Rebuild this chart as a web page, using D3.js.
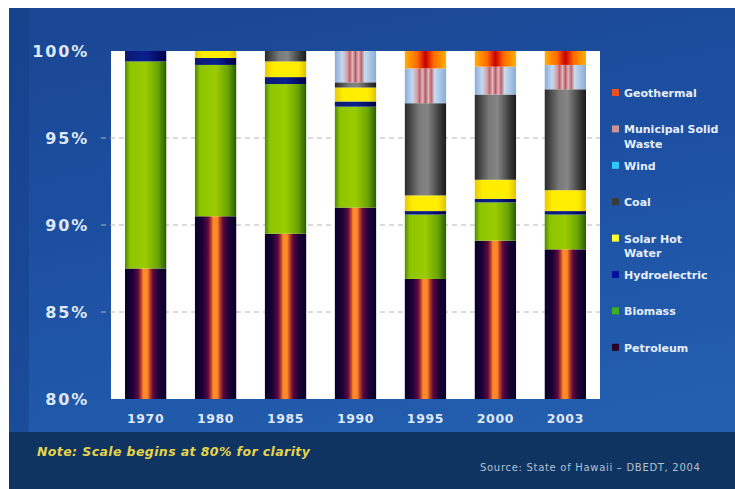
<!DOCTYPE html>
<html>
<head>
<meta charset="utf-8">
<style>
  body { margin: 0; background: #fff; }
  svg { display: block; }
</style>
</head>
<body>
<div id="chartId"></div>
<script src="https://d3js.org/d3.v7.min.js"></script>
<script>

// Data (share of energy supply, %)
const years = ['1970', '1980', '1985', '1990', '1995', '2000', '2003'];
const petroleum  = [87.5, 90.5, 89.5, 91.0, 86.9, 89.1, 88.6];
const biomass    = [11.9, 8.7, 8.6, 5.8, 3.7, 2.2, 2.0];
const hydro      = [0.6, 0.4, 0.4, 0.3, 0.2, 0.2, 0.2];
const solar      = [0, 0.4, 0.9, 0.8, 0.9, 1.1, 1.2];
const coal       = [0, 0, 0.6, 0.3, 5.3, 4.9, 5.8];
const wind       = [0, 0, 0, 0, 0, 0, 0];
const msw        = [0, 0, 0, 1.8, 2.0, 1.6, 1.4];
const geothermal = [0, 0, 0, 0, 1.0, 0.9, 0.8];
const yTicks = [80, 85, 90, 95, 100];

// bottom -> top stack order
const series = [
  {key: 'petroleum',  name: ['Petroleum'],              values: petroleum,  swatch: '#2a0026'},
  {key: 'biomass',    name: ['Biomass'],                values: biomass,    swatch: '#3cb020'},
  {key: 'hydro',      name: ['Hydroelectric'],          values: hydro,      swatch: '#0010a0'},
  {key: 'solar',      name: ['Solar Hot', 'Water'],     values: solar,      swatch: '#ffff30'},
  {key: 'coal',       name: ['Coal'],                   values: coal,       swatch: '#3a3a3a'},
  {key: 'wind',       name: ['Wind'],                   values: wind,       swatch: '#30c8f8'},
  {key: 'msw',        name: ['Municipal Solid', 'Waste'], values: msw,      swatch: '#d09098'},
  {key: 'geothermal', name: ['Geothermal'],             values: geothermal, swatch: '#e85020'}
];

// horizontal "cylinder" shading for each segment
const gradients = {
  petroleum:  [[0, '#08002a'], [0.18, '#1c0036'], [0.32, '#5c0a40'], [0.4, '#c84a28'], [0.44, '#ff8a2a'], [0.54, '#ff8a2a'], [0.6, '#c04428'], [0.68, '#5c0a40'], [0.82, '#1c0036'], [1, '#08002a']],
  biomass:    [[0, '#4a8a00'], [0.12, '#8ec400'], [0.5, '#9acc00'], [0.8, '#6aa400'], [1, '#285e00']],
  hydro:      [[0, '#0a1a70'], [0.5, '#0b2090'], [1, '#000048']],
  solar:      [[0, '#e8c800'], [0.2, '#ffee00'], [0.8, '#ffee00'], [1, '#e0c000']],
  coal:       [[0, '#2a2a2a'], [0.35, '#7a7a7a'], [0.55, '#858585'], [0.85, '#3a3a3a'], [1, '#1a1a1a']],
  wind:       [[0, '#20a0e0'], [0.5, '#60d8ff'], [1, '#20a0e0']],
  msw:        [[0, '#88acd8'], [0.18, '#c4d8f0'], [0.3, '#d4a0a8'], [0.36, '#c06068'], [0.43, '#e0b8c0'], [0.5, '#b85860'], [0.57, '#e0b8c0'], [0.64, '#c06068'], [0.72, '#c8dcf0'], [1, '#88acd8']],
  geothermal: [[0, '#ffb000'], [0.3, '#ff6a00'], [0.5, '#c80000'], [0.7, '#ff6a00'], [1, '#ffb000']]
};

const W = 735, H = 489;
const plot = {left: 111, right: 600, top: 51, bottom: 399};

const svg = d3.select('#chartId').append('svg')
  .attr('width', W).attr('height', H);
const defs = svg.append('defs');

// background panel
const bg = defs.append('linearGradient').attr('id', 'bgGrad')
  .attr('x1', 0).attr('y1', 0).attr('x2', 0.3).attr('y2', 1);
bg.append('stop').attr('offset', 0).attr('stop-color', '#1a4693');
bg.append('stop').attr('offset', 0.5).attr('stop-color', '#1d50a2');
bg.append('stop').attr('offset', 1).attr('stop-color', '#235eaf');

svg.append('rect').attr('x', 9).attr('y', 8).attr('width', W - 9).attr('height', H - 8)
  .attr('fill', 'url(#bgGrad)');
svg.append('rect').attr('x', 9).attr('y', 8).attr('width', 20).attr('height', H - 8)
  .attr('fill', '#153e86').attr('opacity', 0.45);
svg.append('rect').attr('x', 9).attr('y', 432).attr('width', W - 9).attr('height', H - 432)
  .attr('fill', '#0f3462');

Object.entries(gradients).forEach(([k, stops]) => {
  const g = defs.append('linearGradient').attr('id', 'g-' + k)
    .attr('x1', 0).attr('y1', 0).attr('x2', 1).attr('y2', 0);
  stops.forEach(s => g.append('stop').attr('offset', s[0]).attr('stop-color', s[1]));
});

defs.append('clipPath').attr('id', 'plotClip').append('rect')
  .attr('x', plot.left).attr('y', plot.top)
  .attr('width', plot.right - plot.left).attr('height', plot.bottom - plot.top);

// scales
const x = d3.scaleBand().domain(years).range([plot.left, plot.right])
  .paddingInner(0.41).paddingOuter(0.2);
const y = d3.scaleLinear().domain([80, 100]).range([plot.bottom, plot.top]);

// plot area
svg.append('rect').attr('x', plot.left).attr('y', plot.top)
  .attr('width', plot.right - plot.left).attr('height', plot.bottom - plot.top)
  .attr('fill', '#ffffff');

// dashed gridlines
svg.append('g')
  .selectAll('line').data(yTicks.filter(t => t > 80 && t < 100)).enter()
  .append('line')
  .attr('x1', plot.left - 10).attr('x2', plot.right)
  .attr('y1', d => y(d)).attr('y2', d => y(d))
  .attr('stroke', '#b4b4b4').attr('stroke-width', 1)
  .attr('stroke-dasharray', '5,4');

// stacked bars
const table = years.map((yr, i) => {
  const row = {year: yr};
  series.forEach(s => row[s.key] = s.values[i]);
  return row;
});
const stack = d3.stack().keys(series.map(s => s.key));
const layers = stack(table);

const barsG = svg.append('g').attr('clip-path', 'url(#plotClip)');
barsG.selectAll('g').data(layers).enter()
  .append('g')
  .attr('fill', d => 'url(#g-' + d.key + ')')
  .selectAll('rect').data(d => d.filter(p => p[1] - p[0] > 0)).enter()
  .append('rect')
  .attr('x', d => x(d.data.year))
  .attr('width', x.bandwidth())
  .attr('y', d => y(d[1]))
  .attr('height', d => y(d[0]) - y(d[1]));

// axes text
const labelColor = '#dfe8f6';
svg.append('g').selectAll('text').data(yTicks).enter()
  .append('text')
  .attr('x', 89).attr('y', d => y(d)).attr('dy', '0.36em')
  .attr('text-anchor', 'end')
  .style('font-family', 'DejaVu Sans, sans-serif').style('font-weight', 'bold')
  .style('font-size', '16px').style('letter-spacing', '1.8px')
  .attr('fill', labelColor)
  .text(d => d + '%');

svg.append('g').selectAll('text').data(years).enter()
  .append('text')
  .attr('x', d => x(d) + x.bandwidth() / 2).attr('y', 418).attr('dy', '0.36em')
  .attr('text-anchor', 'middle')
  .style('font-family', 'DejaVu Sans, sans-serif').style('font-weight', 'bold')
  .style('font-size', '12.5px').style('letter-spacing', '0.6px')
  .attr('fill', labelColor)
  .text(d => d);

// legend (top -> bottom is reverse of the stack)
const legend = svg.append('g').selectAll('g').data(series.slice().reverse()).enter()
  .append('g')
  .attr('transform', (d, i) => 'translate(612,' + (93 + i * 36.4) + ')');
legend.append('rect')
  .attr('x', 0).attr('y', -4).attr('width', 7).attr('height', 7)
  .attr('fill', d => d.swatch);
legend.append('text')
  .attr('x', 12)
  .style('font-family', 'DejaVu Sans, sans-serif').style('font-weight', 'bold')
  .style('font-size', '11px')
  .attr('fill', '#e6eefa')
  .selectAll('tspan').data(d => d.name).enter()
  .append('tspan')
  .attr('x', 12).attr('dy', (d, i) => i === 0 ? '0.36em' : '1.3em')
  .text(d => d);

// note and source
svg.append('text')
  .attr('x', 37).attr('y', 456)
  .style('font-family', 'DejaVu Sans, sans-serif').style('font-weight', 'bold')
  .style('font-style', 'italic').style('font-size', '12.5px').style('letter-spacing', '0.4px')
  .attr('fill', '#e6d44a')
  .text('Note: Scale begins at 80% for clarity');

svg.append('text')
  .attr('x', 480).attr('y', 471)
  .style('font-family', 'DejaVu Sans, sans-serif').style('font-size', '10px')
  .style('letter-spacing', '0.7px')
  .attr('fill', '#b4c0d0')
  .text('Source: State of Hawaii \u2013 DBEDT, 2004');

</script>
</body>
</html>
